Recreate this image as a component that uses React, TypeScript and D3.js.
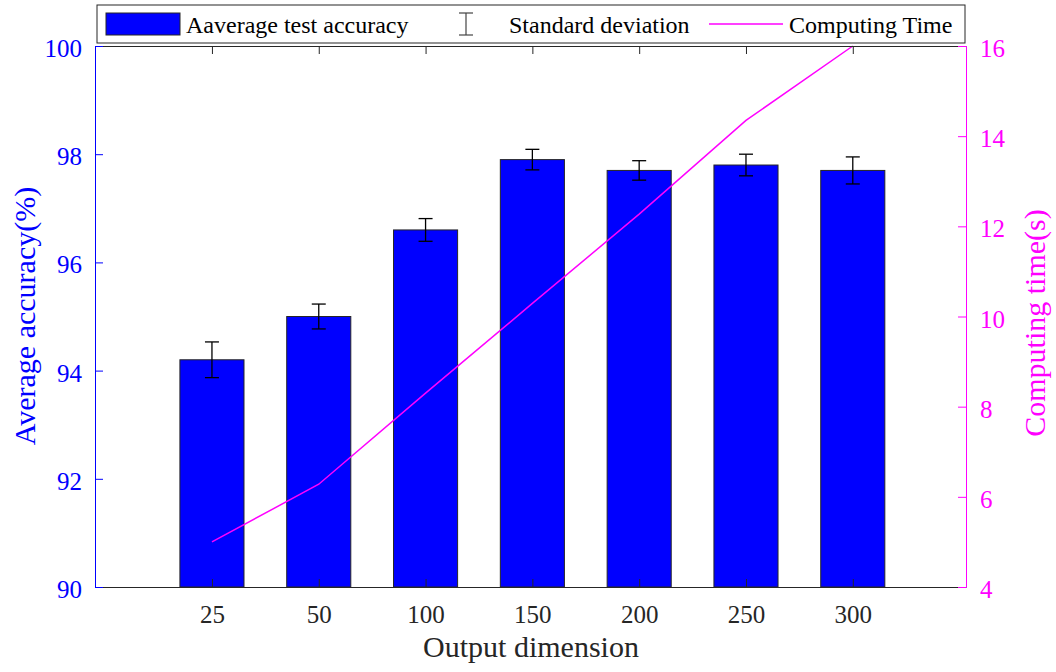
import React, { useRef, useEffect } from 'react';
import * as d3 from 'd3';

const dims = ['25', '50', '100', '150', '200', '250', '300'];
const accuracy = [94.2, 95.0, 96.6, 97.9, 97.7, 97.8, 97.7];
const stdDev = [0.33, 0.23, 0.21, 0.19, 0.18, 0.2, 0.25];
const computingTime = [5.0, 6.28, 8.3, 10.29, 12.27, 14.35, 16.0];
const accTicks = [90, 92, 94, 96, 98, 100];
const timeTicks = [4, 6, 8, 10, 12, 14, 16];

const FONT = '"Liberation Serif", "Times New Roman", serif';

const App: React.FC = () => {
  const ref = useRef<SVGSVGElement | null>(null);

  useEffect(() => {
    if (!ref.current) return;
    const svg = d3.select(ref.current);
    svg.selectAll('*').remove();

    const width = 1056;
    const height = 672;
    const left = 95;
    const right = 966;
    const top = 46;
    const bottom = 587;
    const tickLen = 8;

    // categories sit at 1..7 on a numeric axis, like the original
    const x = d3.scaleLinear().domain([-0.095, 8.06]).range([left, right]);
    const yAcc = d3.scaleLinear().domain([90, 100]).range([bottom, top]);
    const yTime = d3.scaleLinear().domain([4, 16]).range([bottom, top]);
    const pos = (i: number) => x(i + 1);
    const barW = x(0.6) - x(0);

    svg.attr('width', width).attr('height', height)
      .attr('font-family', FONT);

    // bars
    svg.append('g')
      .selectAll('rect')
      .data(accuracy)
      .join('rect')
        .attr('x', (d, i) => pos(i) - barW / 2)
        .attr('y', d => yAcc(d))
        .attr('width', barW)
        .attr('height', d => yAcc(90) - yAcc(d))
        .attr('fill', '#0000ff')
        .attr('stroke', '#262626')
        .attr('stroke-width', 1);

    // error bars
    const capW = 14;
    const err = svg.append('g')
      .attr('stroke', '#000')
      .attr('stroke-width', 1.3)
      .selectAll('g')
      .data(accuracy)
      .join('g');
    err.append('line')
      .attr('x1', (d, i) => pos(i)).attr('x2', (d, i) => pos(i))
      .attr('y1', (d, i) => yAcc(d + stdDev[i]))
      .attr('y2', (d, i) => yAcc(d - stdDev[i]));
    err.append('line')
      .attr('x1', (d, i) => pos(i) - capW / 2).attr('x2', (d, i) => pos(i) + capW / 2)
      .attr('y1', (d, i) => yAcc(d + stdDev[i]))
      .attr('y2', (d, i) => yAcc(d + stdDev[i]));
    err.append('line')
      .attr('x1', (d, i) => pos(i) - capW / 2).attr('x2', (d, i) => pos(i) + capW / 2)
      .attr('y1', (d, i) => yAcc(d - stdDev[i]))
      .attr('y2', (d, i) => yAcc(d - stdDev[i]));

    // computing time line
    const line = d3.line<number>()
      .x((d, i) => pos(i))
      .y(d => yTime(d));
    svg.append('path')
      .datum(computingTime)
      .attr('fill', 'none')
      .attr('stroke', '#ff00ff')
      .attr('stroke-width', 1.5)
      .attr('d', line);

    // bottom axis
    const bottomAxis = svg.append('g')
      .attr('transform', `translate(0,${bottom})`)
      .call(d3.axisBottom(x)
        .tickValues(dims.map((_, i) => i + 1))
        .tickFormat((d, i) => dims[i])
        .tickSizeInner(-tickLen)
        .tickSizeOuter(0))
      .attr('font-family', FONT)
      .attr('font-size', 25);
    bottomAxis.select('.domain').attr('stroke', '#262626');
    bottomAxis.selectAll('.tick line').attr('stroke', '#262626');
    bottomAxis.selectAll('.tick text')
      .attr('fill', '#262626')
      .attr('y', 36)
      .attr('dy', 0);

    // top ticks
    const topAxis = svg.append('g')
      .attr('transform', `translate(0,${top})`)
      .call(d3.axisTop(x)
        .tickValues(dims.map((_, i) => i + 1))
        .tickFormat(() => '')
        .tickSizeInner(-tickLen)
        .tickSizeOuter(0));
    topAxis.select('.domain').attr('stroke', '#262626');
    topAxis.selectAll('.tick line').attr('stroke', '#262626');

    // left axis
    const leftAxis = svg.append('g')
      .attr('transform', `translate(${left},0)`)
      .call(d3.axisLeft(yAcc)
        .tickValues(accTicks)
        .tickSizeInner(-tickLen)
        .tickSizeOuter(0)
        .tickPadding(13))
      .attr('font-family', FONT)
      .attr('font-size', 25);
    leftAxis.select('.domain').attr('stroke', '#0000ff');
    leftAxis.selectAll('.tick line').attr('stroke', '#0000ff');
    leftAxis.selectAll('.tick text')
      .attr('fill', '#0000ff')
      .attr('dy', '0.42em');

    // right axis
    const rightAxis = svg.append('g')
      .attr('transform', `translate(${right},0)`)
      .call(d3.axisRight(yTime)
        .tickValues(timeTicks)
        .tickSizeInner(-tickLen)
        .tickSizeOuter(0)
        .tickPadding(14))
      .attr('font-family', FONT)
      .attr('font-size', 25);
    rightAxis.select('.domain').attr('stroke', '#ff00ff');
    rightAxis.selectAll('.tick line').attr('stroke', '#ff00ff');
    rightAxis.selectAll('.tick text')
      .attr('fill', '#ff00ff')
      .attr('dy', '0.42em');

    // axis titles
    svg.append('text')
      .attr('transform', `translate(531,657)`)
      .attr('text-anchor', 'middle')
      .attr('fill', '#262626')
      .attr('font-size', 30)
      .text('Output dimension');
    svg.append('text')
      .attr('transform', `translate(35,316) rotate(-90)`)
      .attr('text-anchor', 'middle')
      .attr('fill', '#0000ff')
      .attr('font-size', 30)
      .text('Average accuracy(%)');
    svg.append('text')
      .attr('transform', `translate(1045,323) rotate(-90)`)
      .attr('text-anchor', 'middle')
      .attr('fill', '#ff00ff')
      .attr('font-size', 30)
      .text('Computing time(s)');

    // legend
    const legend = svg.append('g').attr('font-size', 24);
    legend.append('rect')
      .attr('x', 97).attr('y', 5)
      .attr('width', 868).attr('height', 38)
      .attr('fill', '#fff')
      .attr('stroke', '#262626')
      .attr('stroke-width', 1);
    legend.append('rect')
      .attr('x', 106).attr('y', 13)
      .attr('width', 74).attr('height', 22)
      .attr('fill', '#0000ff')
      .attr('stroke', '#262626');
    legend.append('text')
      .attr('x', 186).attr('y', 33)
      .attr('fill', '#000')
      .text('Aaverage test accuracy');
    const eb = legend.append('g').attr('stroke', '#444').attr('stroke-width', 1.2);
    eb.append('line').attr('x1', 466).attr('x2', 466).attr('y1', 13).attr('y2', 35);
    eb.append('line').attr('x1', 459).attr('x2', 473).attr('y1', 13).attr('y2', 13);
    eb.append('line').attr('x1', 459).attr('x2', 473).attr('y1', 35).attr('y2', 35);
    legend.append('text')
      .attr('x', 509).attr('y', 33)
      .attr('fill', '#000')
      .text('Standard deviation');
    legend.append('line')
      .attr('x1', 709).attr('x2', 783).attr('y1', 24).attr('y2', 24)
      .attr('stroke', '#ff00ff').attr('stroke-width', 1.5);
    legend.append('text')
      .attr('x', 789).attr('y', 33)
      .attr('fill', '#000')
      .text('Computing Time');
  }, []);

  return <svg ref={ref} style={{ position: 'absolute', left: 0, top: 0, background: '#fff' }} />;
};

export default App;
